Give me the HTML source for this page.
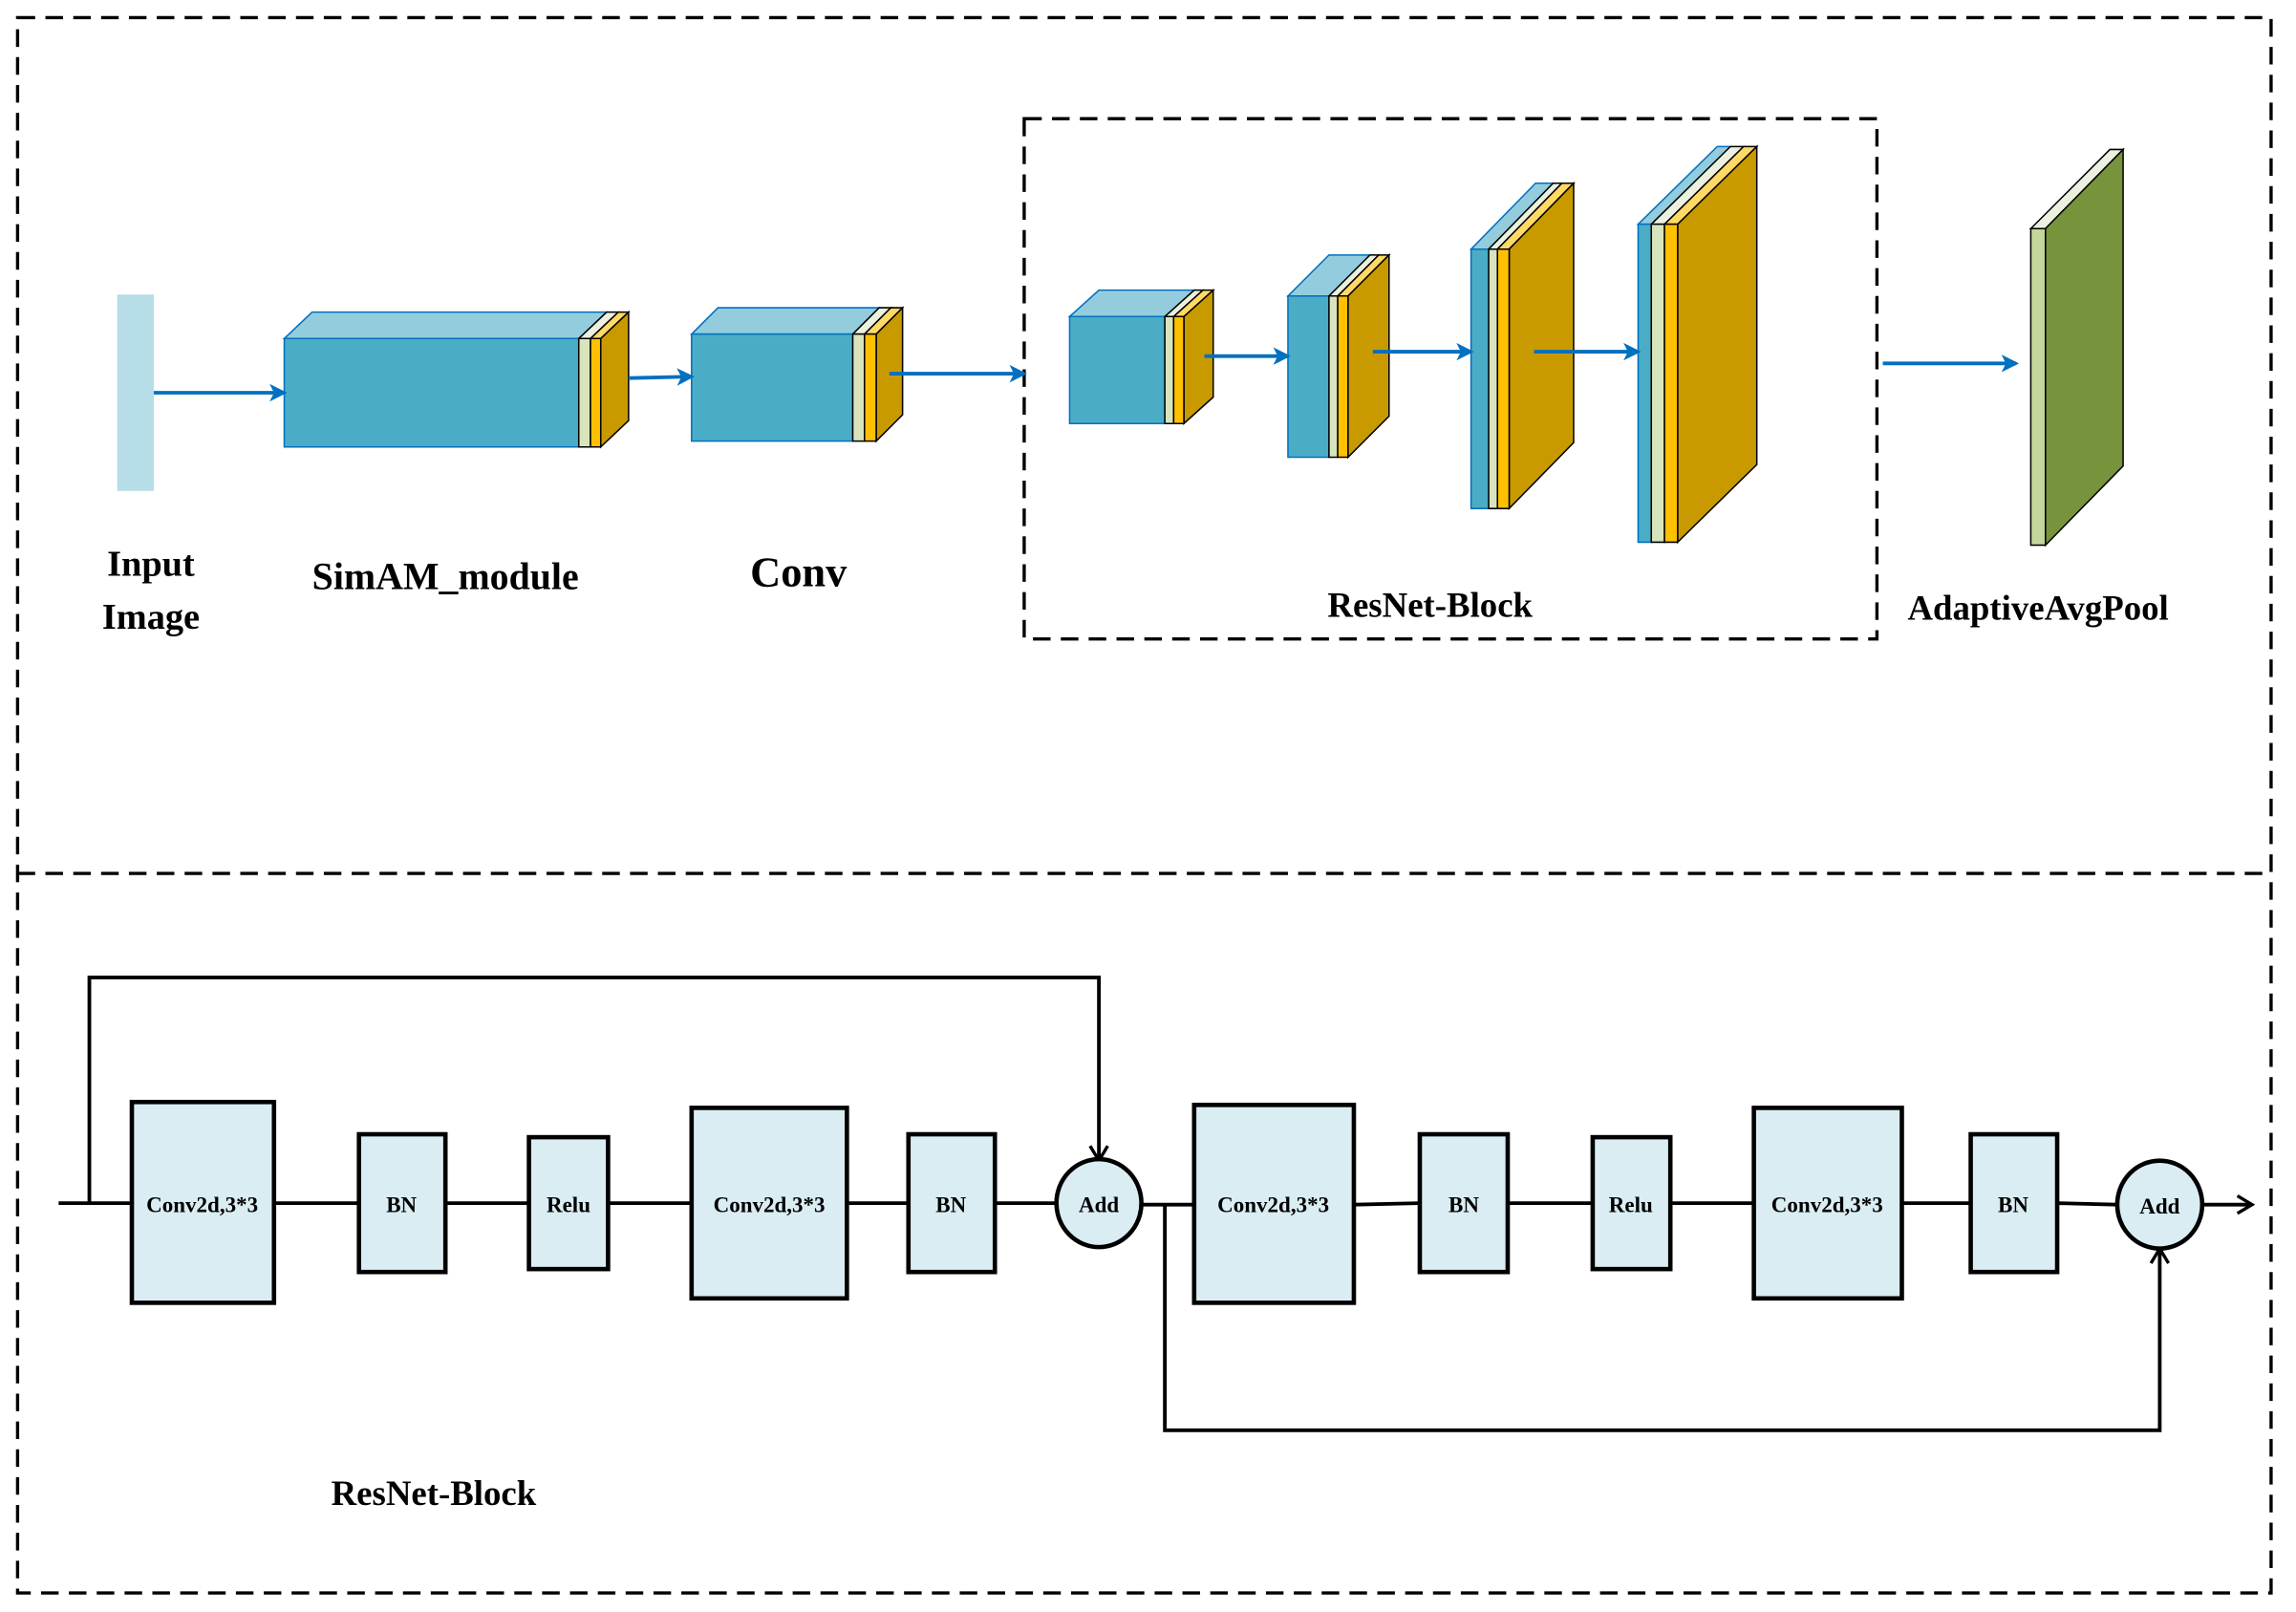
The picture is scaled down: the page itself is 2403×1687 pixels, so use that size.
<!DOCTYPE html>
<html><head><meta charset="utf-8"><style>
html,body{margin:0;padding:0;background:#fff;}
svg{display:block;}
text{font-family:"Liberation Serif",serif;font-weight:bold;fill:#000;}
</style></head><body>
<svg id="s" width="2403" height="1687" viewBox="0 0 1567 1100" preserveAspectRatio="none" xmlns="http://www.w3.org/2000/svg">
<defs>
<marker id="ba" markerWidth="12" markerHeight="12" refX="10" refY="6" orient="auto" markerUnits="userSpaceOnUse" viewBox="0 0 12 12"><path d="M0,0 L12,6 L0,12 L3,6 Z" fill="#0070c0"/></marker>
<marker id="ka" markerWidth="14" markerHeight="14" refX="12" refY="7" orient="auto" markerUnits="userSpaceOnUse"><path d="M2,1 L12,7 L2,13" fill="none" stroke="#000" stroke-width="2.2"/></marker>
</defs>
<rect width="1567" height="1100" fill="#fff"/>
<g fill="none" stroke="#000" stroke-width="2.2" stroke-dasharray="12,7">
<rect x="12" y="12" width="1538" height="1075"/>
<line x1="12" y1="596" x2="1550" y2="596"/>
<rect x="699" y="81" width="582" height="355"/>
</g>
<g id="blocks"></g>
<rect x="80" y="201" width="25" height="134" fill="#b7dde8"/>
<g stroke="#0070c0" stroke-width="2.5" fill="none">
<line x1="105" y1="268" x2="194" y2="268" marker-end="url(#ba)"/>
<line x1="429" y1="258" x2="472" y2="257" marker-end="url(#ba)"/>
<line x1="607" y1="255" x2="699" y2="255" marker-end="url(#ba)"/>
<line x1="822" y1="243" x2="879" y2="243" marker-end="url(#ba)"/>
<line x1="937" y1="240" x2="1004" y2="240" marker-end="url(#ba)"/>
<line x1="1047" y1="240" x2="1118" y2="240" marker-end="url(#ba)"/>
<line x1="1285" y1="248" x2="1376" y2="248" marker-end="url(#ba)"/>
</g>
<polygon points="1386,156 1440,102 1449,102 1396,156" fill="#ebf1de" stroke="#000" stroke-width="1"/>
<polygon points="1396,156 1449,102 1449,318 1396,372" fill="#77933c" stroke="#000" stroke-width="1"/>
<rect x="1386" y="156" width="10" height="216" fill="#c3d69b" stroke="#000" stroke-width="1"/>
<text x="103" y="393" font-size="25" text-anchor="middle">Input</text>
<text x="103" y="429" font-size="25" text-anchor="middle">Image</text>
<text x="304" y="402" font-size="26" text-anchor="middle">SimAM_module</text>
<text x="545" y="400" font-size="29" text-anchor="middle">Conv</text>
<text x="976" y="421" font-size="24" text-anchor="middle">ResNet-Block</text>
<text x="1391" y="423" font-size="24" text-anchor="middle">AdaptiveAvgPool</text>
<g stroke="#000" stroke-width="2.5" fill="none">
<polyline points="40,821 90,821"/>
<polyline points="61,821 61,667 750,667 750,792" marker-end="url(#ka)"/>
<line x1="187" y1="821" x2="245" y2="821"/>
<line x1="304" y1="821" x2="361" y2="821"/>
<line x1="415" y1="821" x2="472" y2="821"/>
<line x1="578" y1="821" x2="620" y2="821"/>
<line x1="679" y1="821" x2="721" y2="821"/>
<line x1="779" y1="822" x2="815" y2="822"/>
<polyline points="795,822 795,976 1474,976 1474,852" marker-end="url(#ka)"/>
<line x1="924" y1="822" x2="969" y2="821"/>
<line x1="1029" y1="821" x2="1087" y2="821"/>
<line x1="1140" y1="821" x2="1197" y2="821"/>
<line x1="1298" y1="821" x2="1345" y2="821"/>
<line x1="1404" y1="821" x2="1445" y2="822"/>
<line x1="1503" y1="822" x2="1537" y2="822" marker-end="url(#ka)"/>
</g>
<g fill="#daedf3" stroke="#000" stroke-width="3">
<rect x="90" y="752" width="97" height="137"/>
<rect x="245" y="774" width="59" height="94"/>
<rect x="361" y="776" width="54" height="90"/>
<rect x="472" y="756" width="106" height="130"/>
<rect x="620" y="774" width="59" height="94"/>
<ellipse cx="750" cy="821" rx="29" ry="30"/>
<rect x="815" y="754" width="109" height="135"/>
<rect x="969" y="774" width="60" height="94"/>
<rect x="1087" y="776" width="53" height="90"/>
<rect x="1197" y="756" width="101" height="130"/>
<rect x="1345" y="774" width="59" height="94"/>
<ellipse cx="1474" cy="822" rx="29" ry="30"/>
</g>
<g font-size="15" text-anchor="middle">
<text x="138" y="827">Conv2d,3*3</text>
<text x="274" y="827">BN</text>
<text x="388" y="827">Relu</text>
<text x="525" y="827">Conv2d,3*3</text>
<text x="649" y="827">BN</text>
<text x="750" y="827">Add</text>
<text x="869" y="827">Conv2d,3*3</text>
<text x="999" y="827">BN</text>
<text x="1113" y="827">Relu</text>
<text x="1247" y="827">Conv2d,3*3</text>
<text x="1374" y="827">BN</text>
<text x="1474" y="828">Add</text>
</g>
<text x="296" y="1027" font-size="24" text-anchor="middle">ResNet-Block</text>
</svg>
<script>
var g=document.getElementById('blocks');
function P(pts,fill,st){var p=document.createElementNS('http://www.w3.org/2000/svg','polygon');p.setAttribute('points',pts.map(a=>a.join(',')).join(' '));p.setAttribute('fill',fill);p.setAttribute('stroke',st||'#000');p.setAttribute('stroke-width','1');g.appendChild(p);}
function B(x0,x1,x2,x3,y0,y1,dx,dy){
 var t=y0-dy;
 P([[x0,y0],[x0+dx,t],[x1+dx,t],[x1,y0]],'#93cddd','#0070c0');
 P([[x1,y0],[x1+dx,t],[x2+dx,t],[x2,y0]],'#ebf1de');
 P([[x2,y0],[x2+dx,t],[x3+dx,t],[x3,y0]],'#ffd966');
 P([[x3,y0],[x3+dx,t],[x3+dx,y1-dy],[x3,y1]],'#c99a00');
 P([[x0,y0],[x1,y0],[x1,y1],[x0,y1]],'#4bacc6','#0070c0');
 P([[x1,y0],[x2,y0],[x2,y1],[x1,y1]],'#d8e4bc');
 P([[x2,y0],[x3,y0],[x3,y1],[x2,y1]],'#ffc000');
}
B(194,395,403,410,231,305,19,18);
B(472,582,590,598,228,301,18,18);
B(730,795,801,808,216,289,20,18);
B(879,907,913,920,202,312,28,28);
B(1004,1016,1022,1030,170,347,44,45);
B(1118,1127,1136,1145,153,370,54,53);
</script>
</body></html>
